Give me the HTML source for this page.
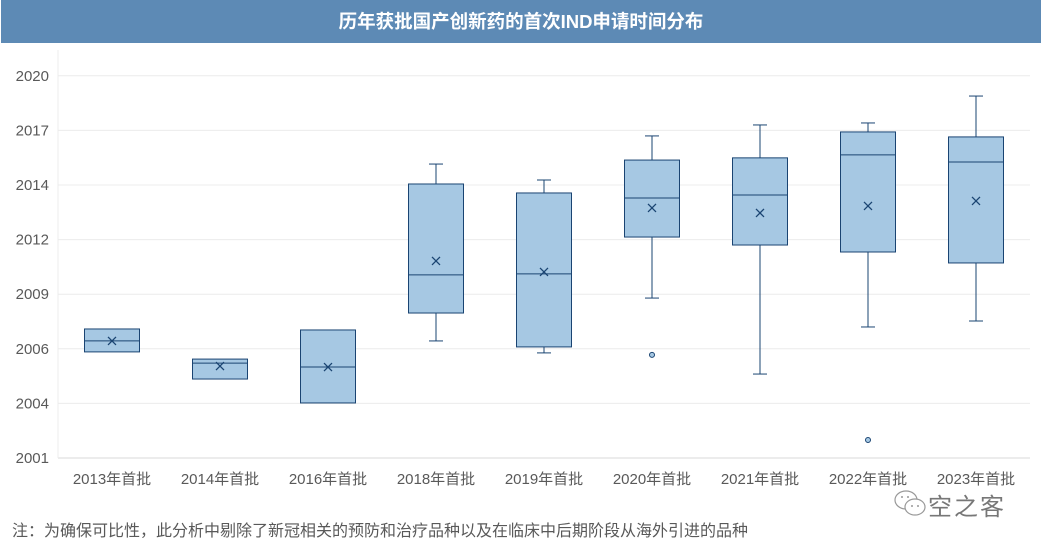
<!DOCTYPE html>
<html><head><meta charset="utf-8">
<style>
body{margin:0;width:1041px;height:548px;background:#fff;overflow:hidden;font-family:"Liberation Sans","Noto Sans CJK SC",sans-serif;}
#title{position:absolute;left:1px;top:0;width:1040px;height:43px;background:#5d8ab5;color:#fff;font-weight:bold;font-size:18.5px;line-height:43px;text-align:center;}
#note{position:absolute;left:12px;top:517px;font-size:16px;color:#595959;}
#wm{position:absolute;left:928px;top:487px;font-size:24px;color:#777;letter-spacing:2px;}
</style></head><body>
<div id="title">历年获批国产创新药的首次IND申请时间分布</div>
<svg id="chart" width="1041" height="548" style="position:absolute;left:0;top:0"></svg>
<div id="note">注：为确保可比性，此分析中剔除了新冠相关的预防和治疗品种以及在临床中后期阶段从海外引进的品种</div>
<svg style="position:absolute;left:893px;top:489px" width="34" height="30">
<ellipse cx="13" cy="11" rx="11" ry="9" fill="none" stroke="#999" stroke-width="1.2"/>
<ellipse cx="22" cy="18" rx="10" ry="8" fill="#fff" stroke="#999" stroke-width="1.2"/>
<circle cx="19" cy="17" r="1" fill="#999"/><circle cx="25" cy="17" r="1" fill="#999"/>
<circle cx="9" cy="8" r="1" fill="#999"/><circle cx="15" cy="8" r="1" fill="#999"/></svg>
<div id="wm">空之客</div>
<script>
const categories=["2013年首批","2014年首批","2016年首批","2018年首批","2019年首批","2020年首批","2021年首批","2022年首批","2023年首批"];
const whiskerMax=[2007.47,2005.96,2007.42,2015.74,2014.94,2017.15,2017.70,2017.80,2019.15];
const q3=[2007.47,2005.96,2007.42,2014.74,2014.29,2015.94,2016.05,2017.35,2017.10];
const median=[2006.87,2005.76,2005.56,2010.18,2010.23,2014.04,2014.19,2016.20,2015.84];
const q1=[2006.32,2004.96,2003.76,2008.27,2006.57,2012.08,2011.68,2011.33,2010.78];
const whiskerMin=[2006.32,2004.96,2003.76,2006.87,2006.27,2009.02,2005.21,2007.57,2007.87];
const means=[2006.87,2005.61,2005.56,2010.88,2010.33,2013.54,2013.29,2013.64,2013.89];
const outlierCat=[5,7];
const outlierVal=[2006.17,2001.90];
const tickLabels=["2001","2004","2006","2009","2012","2014","2017","2020"];
const tickStep=1000/365.25, yMin=2001;
const L=58,R=1030,B=458,pxPerYear=54.6/tickStep;
const y=v=>B-(v-yMin)*pxPerYear;
const bw=(R-L)/categories.length;
const x=i=>L+bw*(i+0.5);
const svg=document.getElementById('chart');const NS="http://www.w3.org/2000/svg";
function mk(t,a){const e=document.createElementNS(NS,t);for(const k in a)e.setAttribute(k,a[k]);svg.appendChild(e);return e;}
tickLabels.forEach((t,k)=>{const yy=y(yMin+k*tickStep);
 const g=mk('line',{x1:L,x2:R,y1:yy,y2:yy,stroke:k==0?'#d9d9d9':'#ececec','stroke-width':1});
 
 const tx=mk('text',{x:49,y:yy+5,'text-anchor':'end','font-size':15,fill:'#595959'});tx.textContent=t;
 });
const ax=mk('line',{x1:L,x2:L,y1:50,y2:B,stroke:'#ececec'});

const st='#1a4472',hw=27.5;
categories.forEach((c,i)=>{const cx=x(i);
 const w1=mk('line',{x1:cx,x2:cx,y1:y(whiskerMax[i]),y2:y(q3[i]),stroke:st});
 
 const w2=mk('line',{x1:cx,x2:cx,y1:y(q1[i]),y2:y(whiskerMin[i]),stroke:st});
 
 [whiskerMax[i],whiskerMin[i]].forEach(v=>{if(v!==q3[i]&&v!==q1[i]){const c2=mk('line',{x1:cx-7,x2:cx+7,y1:y(v),y2:y(v),stroke:st});
  }});
 const b=mk('rect',{x:cx-hw,y:y(q3[i]),width:2*hw,height:y(q1[i])-y(q3[i]),fill:'#a6c8e3',stroke:st,'stroke-width':1});
 
 const m=mk('line',{x1:cx-hw,x2:cx+hw,y1:y(median[i]),y2:y(median[i]),stroke:st});
 
 const my=y(means[i]);
 const mm=mk('path',{d:`M${cx-4},${my-4}L${cx+4},${my+4}M${cx+4},${my-4}L${cx-4},${my+4}`,stroke:st,'stroke-width':1.3,fill:'none'});
 
 const t=mk('text',{x:cx,y:484,'text-anchor':'middle','font-size':15,fill:'#595959'});t.textContent=c;
 });
outlierCat.forEach((ci,j)=>{const o=mk('circle',{cx:x(ci),cy:y(outlierVal[j]),r:2.5,fill:'#a6c8e3',stroke:st});
 });
</script>
</body></html>
